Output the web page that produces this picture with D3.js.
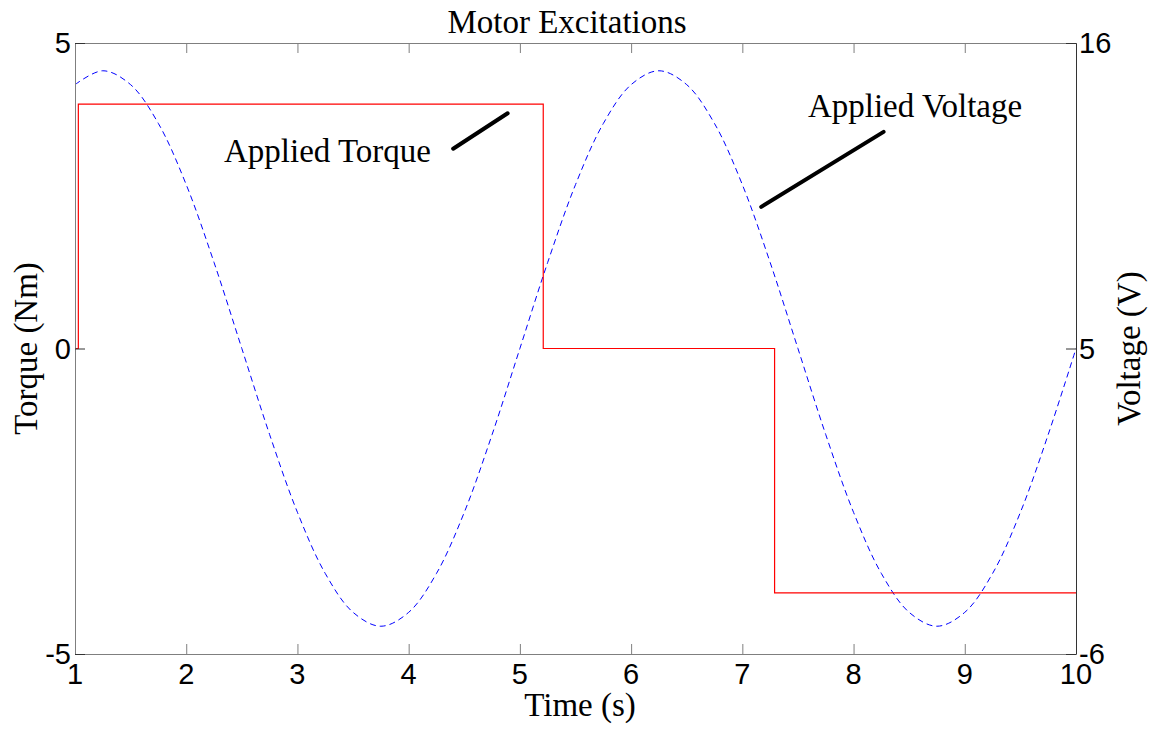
<!DOCTYPE html>
<html>
<head>
<meta charset="utf-8">
<script src="https://cdn.jsdelivr.net/npm/d3@7"></script>
<style>
  body { margin: 0; background: #fff; }
  .serif { font-family: "Liberation Serif", "Times New Roman", serif; fill: #000; }
  .tick-label { font-family: "Liberation Sans", Arial, sans-serif; font-size: 29px; fill: #000; }
</style>
</head>
<body>
<svg id="chart" width="1153" height="731"></svg>
<script>
// time ticks and axis ticks
var xTicks = [1, 2, 3, 4, 5, 6, 7, 8, 9, 10];
var torqueTicks = [-5, 0, 5];
var voltageTicks = [-6, 5, 16];

// applied torque: step changes (time, value)
var torqueTimes = [1, 1.03, 5.21, 7.29, 10];
var torqueValues = [0, 4, 0, -4, -4];

// applied voltage, read every 0.25 s
var voltageTimes = [1, 1.25, 1.5, 1.75, 2, 2.25, 2.5, 2.75, 3, 3.25, 3.5, 3.75, 4, 4.25, 4.5, 4.75,
  5, 5.25, 5.5, 5.75, 6, 6.25, 6.5, 6.75, 7, 7.25, 7.5, 7.75, 8, 8.25, 8.5, 8.75, 9, 9.25, 9.5, 9.75, 10];
var voltageValues = [14.5, 15, 14.5, 13.1, 10.9, 8.1, 5, 1.9, -0.9, -3.1, -4.5, -5, -4.5, -3.1, -0.9, 1.9,
  5, 8.1, 10.9, 13.1, 14.5, 15, 14.5, 13.1, 10.9, 8.1, 5, 1.9, -0.9, -3.1, -4.5, -5, -4.5, -3.1, -0.9, 1.9, 5];

var svg = d3.select('#chart');
var pLeft = 75, pRight = 1076, pTop = 43, pBottom = 654;

var x = d3.scaleLinear().domain([1, 10]).range([pLeft, pRight]);
var yL = d3.scaleLinear().domain([-5, 5]).range([pBottom, pTop]);
var yR = d3.scaleLinear().domain([-6, 16]).range([pBottom, pTop]);

// voltage curve
var vLine = d3.line()
  .x(function(d) { return x(d[0]); })
  .y(function(d) { return yR(d[1]); })
  .curve(d3.curveCatmullRom);
svg.append('path')
  .attr('d', vLine(d3.zip(voltageTimes, voltageValues)))
  .attr('fill', 'none')
  .attr('stroke', '#0000ff')
  .attr('stroke-width', 1)
  .attr('stroke-dasharray', '6,4');

// torque steps
var tLine = d3.line()
  .x(function(d) { return x(d[0]); })
  .y(function(d) { return yL(d[1]); })
  .curve(d3.curveStepAfter);
svg.append('path')
  .attr('d', tLine(d3.zip(torqueTimes, torqueValues)))
  .attr('fill', 'none')
  .attr('stroke', '#ff0000')
  .attr('stroke-width', 1.2);

// axes box
var axisCol = '#7f7f7f';
svg.append('g')
  .attr('transform', 'translate(0,' + pBottom + ')')
  .call(d3.axisBottom(x).tickValues(xTicks).tickSizeInner(-10).tickSizeOuter(0).tickFormat(''))
  .call(function(g) { g.selectAll('line,path').attr('stroke', axisCol); });
svg.append('g')
  .attr('transform', 'translate(0,' + pTop + ')')
  .call(d3.axisTop(x).tickValues(xTicks).tickSizeInner(-10).tickSizeOuter(0).tickFormat(''))
  .call(function(g) { g.selectAll('line,path').attr('stroke', axisCol); });
svg.append('g')
  .attr('transform', 'translate(' + pLeft + ',0)')
  .call(d3.axisLeft(yL).tickValues(torqueTicks).tickSizeInner(-10).tickSizeOuter(0).tickFormat(''))
  .call(function(g) { g.select('path').attr('stroke', axisCol); g.selectAll('line').attr('stroke', '#333'); });
svg.append('g')
  .attr('transform', 'translate(' + pRight + ',0)')
  .call(d3.axisRight(yR).tickValues(voltageTicks).tickSizeInner(-10).tickSizeOuter(0).tickFormat(''))
  .call(function(g) { g.selectAll('line,path').attr('stroke', '#333'); });

// tick labels
svg.selectAll('.xl').data(xTicks).enter().append('text')
  .attr('class', 'tick-label')
  .attr('x', function(d) { return x(d); })
  .attr('y', pBottom + 30)
  .attr('text-anchor', 'middle')
  .text(function(d) { return d; });
svg.selectAll('.yl').data(torqueTicks).enter().append('text')
  .attr('class', 'tick-label')
  .attr('x', pLeft - 4)
  .attr('y', function(d) { return yL(d) + 10; })
  .attr('text-anchor', 'end')
  .text(function(d) { return d; });
svg.selectAll('.yr').data(voltageTicks).enter().append('text')
  .attr('class', 'tick-label')
  .attr('x', pRight + 3)
  .attr('y', function(d) { return yR(d) + 10; })
  .attr('text-anchor', 'start')
  .text(function(d) { return d; });

// title and axis labels
svg.append('text').attr('class', 'serif').attr('font-size', 33)
  .attr('x', 567).attr('y', 33).attr('text-anchor', 'middle')
  .text('Motor Excitations');
svg.append('text').attr('class', 'serif').attr('font-size', 33)
  .attr('x', 580).attr('y', 716).attr('text-anchor', 'middle')
  .text('Time (s)');
svg.append('text').attr('class', 'serif').attr('font-size', 33)
  .attr('transform', 'translate(37,' + (pTop + pBottom) / 2 + ') rotate(-90)')
  .attr('text-anchor', 'middle')
  .text('Torque (Nm)');
svg.append('text').attr('class', 'serif').attr('font-size', 33)
  .attr('transform', 'translate(1140,' + (pTop + pBottom) / 2 + ') rotate(-90)')
  .attr('text-anchor', 'middle')
  .text('Voltage (V)');

// annotations
svg.append('text').attr('class', 'serif').attr('font-size', 33)
  .attr('x', x(2.34)).attr('y', yL(3.05))
  .text('Applied Torque');
svg.append('line')
  .attr('x1', x(4.4)).attr('y1', yL(3.27))
  .attr('x2', x(4.89)).attr('y2', yL(3.85))
  .attr('stroke', '#000').attr('stroke-width', 4).attr('stroke-linecap', 'round');
svg.append('text').attr('class', 'serif').attr('font-size', 33)
  .attr('x', x(7.59)).attr('y', yR(13.34))
  .text('Applied Voltage');
svg.append('line')
  .attr('x1', x(7.17)).attr('y1', yR(10.1))
  .attr('x2', x(8.27)).attr('y2', yR(12.8))
  .attr('stroke', '#000').attr('stroke-width', 4).attr('stroke-linecap', 'round');
</script>
</body>
</html>
